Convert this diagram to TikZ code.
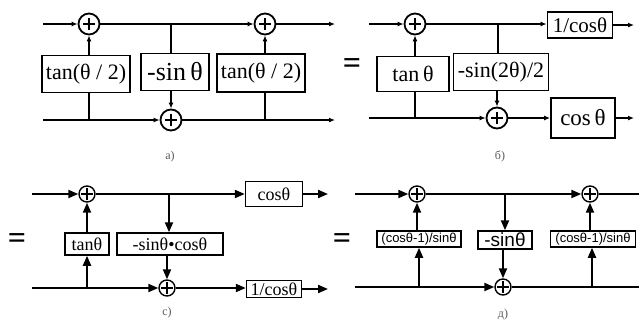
\documentclass[tikz,border=0pt]{standalone}
\usepackage{fontspec}
\setmainfont{Liberation Serif}
\newfontfamily\dsans{Liberation Sans}
\usetikzlibrary{arrows.meta}
\tikzset{
  gain/.style={draw, line width=1.8pt, inner sep=1pt, align=center,
               font=\fontsize{22}{24}\selectfont},
  smallgain/.style={gain, line width=1.5pt, font=\fontsize{18}{19}\selectfont},
  sansgain/.style={smallgain, font=\dsans\fontsize{13}{14}\selectfont},
  adder/.style={draw, circle, line width=1.8pt, minimum size=21pt, inner sep=0pt,
    path picture={
      \draw[line width=2.6pt] ([xshift=-6pt]path picture bounding box.center)
        -- ([xshift=6pt]path picture bounding box.center);
      \draw[line width=2.6pt] ([yshift=-6pt]path picture bounding box.center)
        -- ([yshift=6pt]path picture bounding box.center);}},
  smalladder/.style={adder, line width=1.4pt, minimum size=16pt,
    path picture={
      \draw[line width=1.1pt] ([xshift=-6pt]path picture bounding box.center)
        -- ([xshift=6pt]path picture bounding box.center);
      \draw[line width=1.1pt] ([yshift=-6pt]path picture bounding box.center)
        -- ([yshift=6pt]path picture bounding box.center);}},
  wire/.style={line width=2pt},
  sig/.style={wire, -{Latex[length=6pt,width=5pt]}},
  bigsig/.style={wire, -{Triangle[length=10pt,width=8pt]}},
  eqsign/.style={font=\bfseries\fontsize{32}{34}\selectfont, inner sep=0pt},
  caption/.style={font=\fontsize{12}{13}\selectfont, text=black!65}
}

\begin{document}
\begin{tikzpicture}[x=1pt,y=-1pt]
  \useasboundingbox (0,0) rectangle (639,322);
  % a)
  \coordinate (a-in1) at (43,24);
  \coordinate (a-in2) at (43,120);
  \node[adder] (a-s1) at (89,24) {};
  \node[adder] (a-s2) at (171,120) {};
  \node[adder] (a-s3) at (265,24) {};
  \node[gain, minimum width=88pt, minimum height=37pt] (a-b1) at (86,74) {tan(θ / 2)};
  \node[gain, minimum width=68pt, minimum height=37pt, font=\fontsize{26}{28}\selectfont] (a-b2) at (175,72) {-sin\,θ};
  \node[gain, minimum width=88pt, minimum height=38pt] (a-b3) at (261,73) {tan(θ / 2)};
  \coordinate (a-p1) at (89,120);
  \coordinate (a-p2) at (171,24);
  \coordinate (a-p3) at (265,120);
  \coordinate (a-out1) at (335,24);
  \coordinate (a-out2) at (335,120);
  \draw[sig] (a-in1) -- (a-s1);
  \draw[sig] (a-s1) -- (a-s3);
  \draw[sig] (a-s3) -- (a-out1);
  \draw[sig] (a-in2) -- (a-s2);
  \draw[sig] (a-s2) -- (a-out2);
  \draw[wire] (a-p1) -- (a-p1 |- a-b1.south);
  \draw[sig] (a-s1 |- a-b1.north) -- (a-s1);
  \draw[wire] (a-p2) -- (a-p2 |- a-b2.north);
  \draw[sig] (a-s2 |- a-b2.south) -- (a-s2);
  \draw[wire] (a-p3) -- (a-p3 |- a-b3.south);
  \draw[sig] (a-s3 |- a-b3.north) -- (a-s3);
  \node[caption] (a-cap) at (170,157) {а)};

  \node[eqsign] (eq1) at (352,66) {=};

  % b)
  \coordinate (b-in1) at (369,24);
  \coordinate (b-in2) at (369,118);
  \node[adder] (b-s1) at (415,24) {};
  \node[adder] (b-s2) at (497,118) {};
  \node[gain, minimum width=72pt, minimum height=35pt] (b-b1) at (413,74) {tan\,θ};
  \node[gain, minimum width=95pt, minimum height=37pt, inner sep=0pt] (b-b2) at (501,72) {-sin(2θ)/2};
  \node[gain, minimum width=65pt, minimum height=26pt, font=\fontsize{21}{22}\selectfont] (b-g1) at (580,25) {1/cosθ};
  \node[gain, minimum width=64pt, minimum height=40pt, font=\fontsize{23}{24}\selectfont] (b-g2) at (583,118) {cos\,θ};
  \coordinate (b-p1) at (498,24);
  \coordinate (b-p2) at (415,118);
  \coordinate (b-out1) at (634,25);
  \coordinate (b-out2) at (634,118);
  \draw[sig] (b-in1) -- (b-s1);
  \draw[sig] (b-s1) -- (b-s1 -| b-g1.west);
  \draw[sig] (b-g1) -- (b-out1);
  \draw[sig] (b-in2) -- (b-s2);
  \draw[sig] (b-s2) -- (b-g2);
  \draw[sig] (b-g2) -- (b-out2);
  \draw[wire] (b-p2) -- (b-p2 |- b-b1.south);
  \draw[sig] (b-s1 |- b-b1.north) -- (b-s1);
  \draw[wire] (b-p1) -- (b-p1 |- b-b2.north);
  \draw[sig] (b-s2 |- b-b2.south) -- (b-s2);
  \node[caption] (b-cap) at (500,156) {б)};

  % c)
  \node[eqsign] (eq2) at (17,241) {=};
  \coordinate (c-in1) at (32,194);
  \coordinate (c-in2) at (32,288);
  \node[smalladder] (c-s1) at (87,194) {};
  \node[smalladder] (c-s2) at (167,288) {};
  \node[smallgain, minimum width=44pt, minimum height=22pt] (c-b1) at (87,244) {tanθ};
  \node[smallgain, minimum width=106pt, minimum height=22pt] (c-b2) at (170,244) {-sinθ•cosθ};
  \node[smallgain, minimum width=57pt, minimum height=25pt] (c-g1) at (274,194) {cosθ};
  \node[smallgain, minimum width=55pt, minimum height=17pt, inner sep=0pt] (c-g2) at (274,289) {1/cosθ};
  \coordinate (c-p1) at (169,194);
  \coordinate (c-p2) at (87,288);
  \coordinate (c-out1) at (328,194);
  \coordinate (c-out2) at (328,289);
  \draw[bigsig] (c-in1) -- (c-s1);
  \draw[bigsig] (c-s1) -- (c-g1);
  \draw[bigsig] (c-g1) -- (c-out1);
  \draw[bigsig] (c-in2) -- (c-s2);
  \draw[bigsig] (c-s2) -- (c-s2 -| c-g2.west);
  \draw[bigsig] (c-g2) -- (c-out2);
  \draw[bigsig] (c-p2) -- (c-p2 |- c-b1.south);
  \draw[bigsig] (c-b1) -- (c-s1);
  \draw[bigsig] (c-p1) -- (c-p1 |- c-b2.north);
  \draw[bigsig] (c-s2 |- c-b2.south) -- (c-s2);
  \node[caption] (c-cap) at (167,313) {c)};

  % d)
  \node[eqsign] (eq3) at (342,241) {=};
  \coordinate (d-in1) at (355,194);
  \coordinate (d-in2) at (355,287);
  \node[smalladder] (d-s1) at (417,194) {};
  \node[smalladder] (d-s2) at (503,287) {};
  \node[smalladder] (d-s3) at (590,194) {};
  \node[sansgain, minimum width=84pt, minimum height=16pt, inner sep=0pt] (d-b1) at (419,239) {(cosθ-1)/sinθ};
  \node[sansgain, minimum width=54pt, minimum height=18pt, inner sep=0pt, font=\dsans\fontsize{19}{20}\selectfont] (d-b2) at (505,240) {-sinθ};
  \node[sansgain, minimum width=85pt, minimum height=16pt, inner sep=0pt] (d-b3) at (593,239) {(cosθ-1)/sinθ};
  \coordinate (d-p1) at (505,194);
  \coordinate (d-p2) at (419,287);
  \coordinate (d-p3) at (592,287);
  \coordinate (d-out1) at (639,194);
  \coordinate (d-out2) at (639,287);
  \draw[bigsig] (d-in1) -- (d-s1);
  \draw[bigsig] (d-s1) -- (d-s3);
  \draw[wire] (d-s3) -- (d-out1);
  \draw[bigsig] (d-in2) -- (d-s2);
  \draw[wire] (d-s2) -- (d-out2);
  \draw[bigsig] (d-p1) -- (d-p1 |- d-b2.north);
  \draw[bigsig] (d-s2 |- d-b2.south) -- (d-s2);
  \draw[bigsig] (d-p2) -- (d-p2 |- d-b1.south);
  \draw[bigsig] (d-s1 |- d-b1.north) -- (d-s1);
  \draw[bigsig] (d-p3) -- (d-p3 |- d-b3.south);
  \draw[bigsig] (d-s3 |- d-b3.north) -- (d-s3);
  \node[caption] (d-cap) at (503,315) {д)};
\end{tikzpicture}
\end{document}
